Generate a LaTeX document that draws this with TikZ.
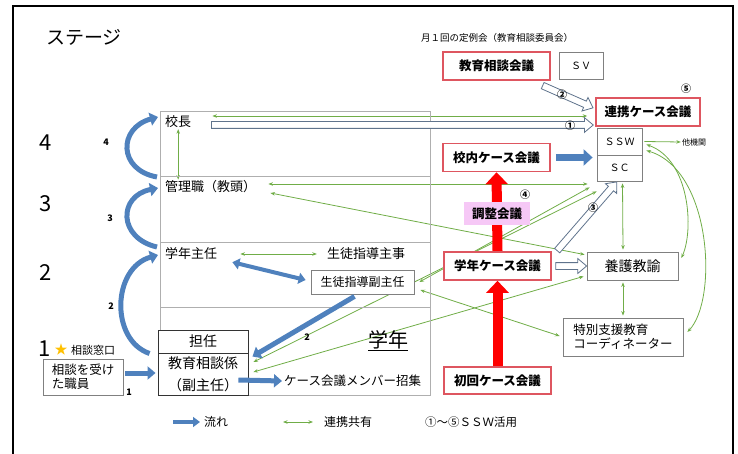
\documentclass[tikz,border=0pt]{standalone}
\usepackage{fontspec}
\setmainfont{Noto Sans CJK JP}
\usetikzlibrary{arrows.meta}
\usetikzlibrary{shapes.arrows}
\usetikzlibrary{calc}

\pgfdeclarelayer{background}
\pgfsetlayers{background,main}

\definecolor{flowblue}{RGB}{79,129,189}
\definecolor{linkgreen}{RGB}{112,173,71}
\definecolor{meetred}{RGB}{222,86,96}
\definecolor{adjpink}{RGB}{246,200,246}
\definecolor{hollowgray}{RGB}{95,115,140}
\definecolor{rowgray}{RGB}{175,175,175}
\definecolor{stargold}{RGB}{255,192,0}

\tikzset{
  rowtext/.style={inner sep=1pt, font=\fontsize{13}{13}\selectfont},
  graybox/.style={draw=gray, line width=0.8pt, fill=white, inner sep=1pt,
    font=\fontsize{12.5}{14}\selectfont},
  tanbox/.style={draw=black!80, line width=0.9pt, fill=white, inner sep=1pt,
    font=\fontsize{14}{22}\selectfont},
  meetbox/.style={draw=meetred, line width=1.6pt, fill=white, inner sep=1pt,
    minimum width=107pt, minimum height=28pt,
    font=\fontsize{12.5}{12.5}\selectfont\bfseries},
  stagenum/.style={font=\fontsize{22}{22}\selectfont},
  smallnum/.style={font=\fontsize{9}{9}\selectfont\bfseries},
  circnum/.style={font=\fontsize{10}{10}\selectfont\bfseries},
  link/.style={draw=linkgreen, line width=0.8pt,
    {Stealth[length=4.5pt,width=3.5pt]}-{Stealth[length=4.5pt,width=3.5pt]}},
  flow/.style={draw=flowblue, line width=5pt, -{Triangle[length=8pt,width=13pt]}},
  upred/.style={draw=red, line width=10pt, -{Triangle[length=12pt,width=22pt]}},
  hollow/.style={single arrow, draw=hollowgray, line width=0.8pt, fill=white,
    inner sep=3pt, single arrow head extend=4pt, single arrow head indent=0pt,
    single arrow tip angle=80}
}

\newcommand\hollowarrow[3]{%
  \path (#2) coordinate (hollowA) (#3) coordinate (hollowB);
  \path let \p1=($(hollowB)-(hollowA)$), \n1={atan2(\y1,\x1)},
    \n2={veclen(\x1,\y1)} in
    node[hollow, minimum height=\n2, rotate=\n1] (#1) at ($(hollowA)!0.5!(hollowB)$) {};}

\begin{document}
\begin{tikzpicture}[x=1pt,y=-1pt]
  \useasboundingbox (0,0) rectangle (738,454);
  \draw[line width=1.6pt] (13,6) rectangle (733,470);
  %
  % stages
  \node[font=\fontsize{19}{19}\selectfont] (stage) at (84,37) {ステージ};
  \node[stagenum] (s4) at (46,143) {4};
  \node[stagenum] (s3) at (46,204) {3};
  \node[stagenum] (s2) at (46,273) {2};
  \node[stagenum] (s1) at (45,349) {1};
  \node[smallnum] (n4) at (106,142) {4};
  \node[smallnum] (n3) at (110,218) {3};
  \node[smallnum] (n2) at (111,306) {2};
  \node[smallnum] (n1) at (129,392) {1};
  \node[text=stargold, font=\fontsize{13}{13}\selectfont] (star) at (61,350) {★};
  \node[anchor=west, inner sep=1pt, font=\fontsize{11}{11}\selectfont] (madoguchi) at (70,350) {相談窓口};
  \node[graybox, minimum width=80pt, minimum height=36pt, align=left] (uketa) at (83,377) {相談を受け\\た職員};
  %
  % grade block
  \draw[rowgray, line width=0.8pt] (160,111) rectangle (430,395);
  \foreach \y in {176,242,307}
    \draw[rowgray, line width=0.8pt] (160,\y) -- (430,\y);
  \node[rowtext, anchor=west] (kocho) at (164,122) {校長};
  \node[rowtext, anchor=west] (kanri) at (164,187) {管理職（教頭）};
  \node[rowtext, anchor=west] (shunin) at (164,254) {学年主任};
  \node[rowtext] (shuji) at (366,254) {生徒指導主事};
  \node[graybox, font=\fontsize{12}{12}\selectfont, minimum width=103pt, minimum height=24pt] (fuku) at (362.5,282) {生徒指導副主任};
  \node[tanbox, minimum width=90pt, minimum height=23pt] (tannin) at (203,341.5) {担任};
  \node[tanbox, minimum width=90pt, minimum height=42pt, align=center] (kyouiku) at (203,374) {教育相談係\\（副主任）};
  \node[inner sep=1pt, font=\fontsize{20}{20}\selectfont] (gakunen) at (388,341) {\underline{学年}};
  \node[rowtext, anchor=west, font=\fontsize{12.5}{12.5}\selectfont] (shoushu) at (283,381) {ケース会議メンバー招集};
  %
  % meetings
  \node[font=\fontsize{9.5}{10}\selectfont] (teirei) at (497,38) {月１回の定例会（教育相談委員会）};
  \node[meetbox] (soudan) at (496.5,66) {教育相談会議};
  \node[graybox, font=\fontsize{10}{10}\selectfont, minimum width=44pt, minimum height=27pt] (sv) at (581,65.5) {ＳＶ};
  \node[meetbox, minimum width=104pt] (renkei) at (648,112) {連携ケース会議};
  \node[graybox, font=\fontsize{10}{10}\selectfont, minimum width=45pt, minimum height=27pt] (ssw) at (619.5,141.5) {ＳＳＷ};
  \node[graybox, font=\fontsize{10}{10}\selectfont, minimum width=45pt, minimum height=26pt] (sc) at (619.5,168) {ＳＣ};
  \node[inner sep=1pt, font=\fontsize{8}{8}\selectfont] (tako) at (694,142) {他機関};
  \node[meetbox] (kounai) at (496.5,157.5) {校内ケース会議};
  \node[meetbox] (gcase) at (497.5,266) {学年ケース会議};
  \node[meetbox, minimum height=27pt] (shokai) at (497.5,380.5) {初回ケース会議};
  \node[graybox, font=\fontsize{14}{14}\selectfont, minimum width=91pt, minimum height=28pt] (yougo) at (632.5,266) {養護教諭};
  \node[graybox, minimum width=120pt, minimum height=38pt, align=left] (tokubetsu) at (623,337) {特別支援教育\\コーディネーター};
  %
  % links and red flow, under the boxes
  \begin{pgfonlayer}{background}
    \draw[link] ([shift={(20,-6)}]kocho.east) -- ([shift={(-8,4)}]renkei.west);
    \draw[link] (kocho.south) -- (kocho.south |- kanri.north);
    \draw[link] ([shift={(11,-3)}]kanri.east) -- ([shift={(-9,16)}]sc.west);
    \draw[link] ([shift={(13,6)}]kanri.east) -- ([shift={(-2,3)}]yougo.north west);
    \draw[link] ([shift={(22,0)}]shunin.east) -- ([shift={(-9,0)}]shuji.west);
    \draw[link] ([shift={(5,0)}]fuku.east) -- ([shift={(-7,6)}]sc.south west);
    \draw[link] ([shift={(6,8)}]fuku.east) -- ([shift={(-3,-1)}]tokubetsu.west);
    \draw[link] ([shift={(5,-12)}]kyouiku.east) -- ([shift={(0,10)}]sc.south west);
    \draw[link] ([shift={(5,-2)}]kyouiku.east) -- ([shift={(-3,-4)}]yougo.south west);
    \draw[link, {Stealth[length=4.5pt,width=3.5pt]}-{Stealth[length=4.5pt,width=3.5pt]}]
      ([shift={(3,2)}]sc.south) -- ([shift={(-9.5,-2)}]yougo.north);
    \draw[link] ([shift={(-9.5,2)}]yougo.south) -- ([shift={(0,-2)}]tokubetsu.north);
    \draw[link, -{Stealth[length=4.5pt,width=3.5pt]}] ([xshift=2pt]ssw.east) -- (tako.west);
    \draw[link] ([shift={(4,3)}]ssw.east) .. controls (690,160) and (694,230) .. ([shift={(3,-8)}]yougo.east);
    \draw[link] ([shift={(4,9)}]ssw.east) .. controls (712,170) and (718,300) .. ([shift={(4,-5)}]tokubetsu.east);
    \draw[upred] (shokai.north) -- (gcase.south);
    \draw[upred] (gcase.north) -- (kounai.south);
  \end{pgfonlayer}
  \node[fill=adjpink, inner sep=1pt, minimum width=66pt, minimum height=23pt,
    font=\fontsize{12.5}{12.5}\selectfont\bfseries] (chousei) at (497,213.5) {調整会議};
  %
  % blue flow
  \draw[flow] ([shift={(-7,-10)}]kanri.west) .. controls (118,170) and (118,128) .. ([shift={(-6,-5)}]kocho.west);
  \draw[flow] ([shift={(-7,-7)}]shunin.west) .. controls (118,238) and (118,196) .. ([shift={(-6,1)}]kanri.west);
  \draw[flow] ([shift={(-8,12)}]tannin.west) .. controls (110,340) and (112,268) .. ([shift={(-6,1)}]shunin.west);
  \draw[flow] ([shift={(2,-4)}]uketa.east) -- ([shift={(-2,-1)}]kyouiku.west);
  \draw[flow] ([shift={(-10,6)}]kyouiku.east) -- ([xshift=-1pt]shoushu.west);
  \draw[flow, line width=4pt, {Triangle[length=7pt,width=11pt]}-{Triangle[length=7pt,width=11pt]}]
    ([shift={(14,1)}]shunin.south east) -- ([shift={(-5,-2)}]fuku.west);
  \draw[flow] ([shift={(-8,2)}]fuku.south) -- ([shift={(4,4)}]kyouiku.north east);
  \node[smallnum] (n2b) at (307,337) {2};
  \draw[flow, line width=7pt, -{Triangle[length=9pt,width=16pt]}]
    ([xshift=5pt]kounai.east) -- ([xshift=-4pt]kounai.east -| sc.west);
  %
  % SSW arrows
  \hollowarrow{ssw1}{[shift={(17,3)}]kocho.east}{[shift={(-4,13)}]renkei.west}
  \hollowarrow{ssw2}{[shift={(-10,4)}]soudan.south east}{[shift={(-4,-5)}]renkei.west}
  \hollowarrow{ssw3}{[shift={(4,1)}]gcase.north east}{[shift={(-4,2)}]sc.south}
  \hollowarrow{tokase}{[xshift=2pt]gcase.east}{[xshift=-2pt]yougo.west}
  \node[circnum] (c1) at (570,126) {①};
  \node[circnum] (c2) at (562,95) {②};
  \node[circnum] (c3) at (593,208) {③};
  \node[circnum] (c4) at (525,195) {④};
  \node[circnum] (c5) at (686,89) {⑤};
  %
  % legend
  \node[anchor=west, inner sep=1pt, font=\fontsize{12}{12}\selectfont] (legflow) at (203,422) {流れ};
  \draw[flow, line width=4pt, -{Triangle[length=7pt,width=10pt]}] ([xshift=-30pt]legflow.west) -- ([xshift=-3pt]legflow.west);
  \node[anchor=west, inner sep=1pt, font=\fontsize{12}{12}\selectfont] (leglink) at (323,422) {連携共有};
  \draw[link] ([xshift=-40pt]leglink.west) -- ([xshift=-10pt]leglink.west);
  \node[anchor=west, inner sep=1pt, font=\fontsize{11.5}{11.5}\selectfont] (legssw) at (424,422) {①～⑤ＳＳＷ活用};
\end{tikzpicture}
\end{document}
